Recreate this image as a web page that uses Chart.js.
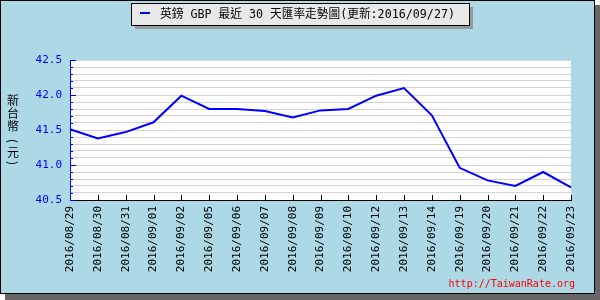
<!DOCTYPE html>
<html>
<head>
<meta charset="utf-8">
<script src="https://cdn.jsdelivr.net/npm/chart.js@4.4.0/dist/chart.umd.min.js"></script>
<style>
  html, body { margin: 0; padding: 0; background: #fff; }
  canvas { display: block; }
</style>
</head>
<body>
<canvas id="rateChart" width="600" height="300"></canvas>
<script>
// --- dados ---
const dates = [
  '2016/08/29', '2016/08/30', '2016/08/31', '2016/09/01', '2016/09/02',
  '2016/09/05', '2016/09/06', '2016/09/07', '2016/09/08', '2016/09/09',
  '2016/09/10', '2016/09/12', '2016/09/13', '2016/09/14', '2016/09/19',
  '2016/09/20', '2016/09/21', '2016/09/22', '2016/09/23'
];
const rates = [
  41.51, 41.38, 41.47, 41.61, 41.99,
  41.80, 41.80, 41.77, 41.68, 41.78,
  41.80, 41.99, 42.10, 41.71, 40.96,
  40.78, 40.70, 40.90, 40.68
];
const yMin = 40.5;
const yMax = 42.5;
const yStep = 0.1;
const seriesLabel = '英鎊 GBP 最近 30 天匯率走勢圖(更新:2016/09/27)';
const yTitleChars = ['新', '台', '幣', '(', '元', ')'];
const siteText = 'http://TaiwanRate.org';

const MONO = "'DejaVu Sans Mono', 'Liberation Mono', monospace";
const CJK = "'DejaVu Sans Mono', 'Noto Sans CJK TC', sans-serif";

// fundo, moldura, legenda e marcas extras
const decorPlugin = {
  id: 'decor',
  beforeDraw(chart) {
    const ctx = chart.ctx;
    const a = chart.chartArea;
    ctx.save();
    // sombra cinza
    ctx.fillStyle = '#666666';
    ctx.fillRect(5, 5, 595, 295);
    // fundo azul claro
    ctx.fillStyle = '#add8e6';
    ctx.fillRect(0, 0, 595, 294);
    ctx.strokeStyle = '#000';
    ctx.lineWidth = 1;
    ctx.strokeRect(0.5, 0.5, 594, 293);
    // área do gráfico
    ctx.fillStyle = '#ffffff';
    ctx.fillRect(a.left, a.top, a.right - a.left, a.bottom - a.top);
    ctx.restore();
  },
  afterDraw(chart) {
    const ctx = chart.ctx;
    const a = chart.chartArea;
    const y = chart.scales.y;
    const x = chart.scales.x;
    ctx.save();

    // marcas azuis do eixo Y
    ctx.strokeStyle = '#0000ff';
    ctx.lineWidth = 1;
    y.ticks.forEach(t => {
      const py = Math.round(y.getPixelForValue(t.value)) + 0.5;
      const major = Math.round(t.value * 10) % 5 === 0;
      ctx.beginPath();
      ctx.moveTo(a.left, py);
      ctx.lineTo(a.left + (major ? 6 : 3), py);
      ctx.stroke();
    });

    // marcas pretas do eixo X
    ctx.strokeStyle = '#000';
    dates.forEach((d, i) => {
      if (i === 0) return;
      const px = Math.round(x.getPixelForValue(i)) + 0.5;
      ctx.beginPath();
      ctx.moveTo(px, a.bottom);
      ctx.lineTo(px, a.bottom - 5);
      ctx.stroke();
    });

    // título do eixo Y (vertical, parênteses girados)
    ctx.fillStyle = '#000';
    ctx.font = "12px 'Noto Sans CJK TC', sans-serif";
    ctx.textAlign = 'center';
    ctx.textBaseline = 'middle';
    const ys = [100, 113, 126, 141, 152, 163];
    yTitleChars.forEach((c, i) => {
      if (c === '(' || c === ')') {
        ctx.save();
        ctx.translate(13, ys[i]);
        ctx.rotate(Math.PI / 2);
        ctx.fillText(c, 0, 0);
        ctx.restore();
      } else {
        ctx.fillText(c, 13, ys[i]);
      }
    });

    // caixa da legenda com sombra
    ctx.fillStyle = '#999999';
    ctx.fillRect(135, 7, 338, 22);
    ctx.fillStyle = '#e8e8e8';
    ctx.fillRect(131, 3, 338, 22);
    ctx.strokeStyle = '#000';
    ctx.strokeRect(131.5, 3.5, 338, 22);
    ctx.strokeStyle = '#0000ff';
    ctx.lineWidth = 2;
    ctx.beginPath();
    ctx.moveTo(140, 13);
    ctx.lineTo(150, 13);
    ctx.stroke();
    ctx.fillStyle = '#000';
    ctx.font = '12px ' + CJK;
    ctx.textAlign = 'left';
    const label = chart.data.datasets[0].label;
    const w = ctx.measureText(label).width;
    ctx.save();
    ctx.translate(160, 15);
    if (w > 295) ctx.scale(295 / w, 1);
    ctx.fillText(label, 0, 0);
    ctx.restore();

    // site
    ctx.fillStyle = '#ff0000';
    ctx.font = '10px ' + MONO;
    ctx.textAlign = 'right';
    ctx.fillText(siteText, 575, 284);
    ctx.restore();
  }
};

const ctx = document.getElementById('rateChart').getContext('2d');
new Chart(ctx, {
  type: 'line',
  data: {
    labels: dates,
    datasets: [{
      label: seriesLabel,
      data: rates,
      borderColor: '#0000ff',
      borderWidth: 2,
      pointRadius: 0,
      tension: 0,
      fill: false
    }]
  },
  options: {
    responsive: false,
    animation: false,
    devicePixelRatio: 1,
    layout: { padding: { top: 60, right: 29, left: 0, bottom: 0 } },
    plugins: {
      legend: { display: false },
      tooltip: { enabled: false }
    },
    scales: {
      x: {
        offset: false,
        afterFit: s => { s.height = 100; },
        grid: { display: false, drawTicks: false },
        border: { display: true, color: '#000', width: 1 },
        ticks: {
          autoSkip: false,
          maxRotation: 90,
          minRotation: 90,
          padding: 6,
          color: '#000',
          font: { family: MONO, size: 11 }
        }
      },
      y: {
        min: yMin,
        max: yMax,
        afterFit: s => { s.width = 70; },
        grid: { color: '#d3d3d3', lineWidth: 1, drawTicks: false },
        border: { display: true, color: '#0000ff', width: 1 },
        ticks: {
          stepSize: yStep,
          autoSkip: false,
          padding: 8,
          color: '#0000ff',
          font: { family: MONO, size: 11 },
          callback: v => Math.round(v * 10) % 5 === 0 ? v.toFixed(1) : ''
        }
      }
    }
  },
  plugins: [decorPlugin]
});
</script>
</body>
</html>
